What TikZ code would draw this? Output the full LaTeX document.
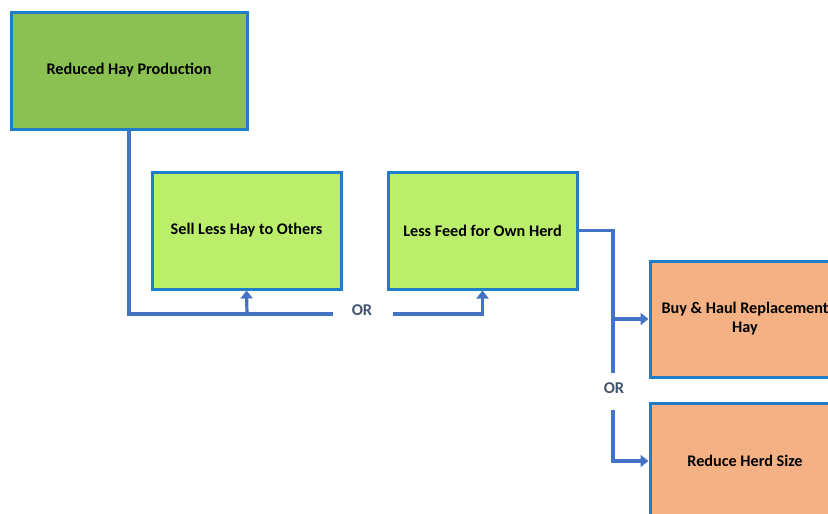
\documentclass[tikz,border=0pt]{standalone}
\usepackage{fontspec}
\setmainfont{Carlito}
\usetikzlibrary{arrows.meta}
\definecolor{boxedge}{RGB}{34,125,201}
\definecolor{linkblue}{RGB}{68,114,196}
\definecolor{darkgreen}{RGB}{139,193,82}
\definecolor{lightgreen}{RGB}{187,238,107}
\definecolor{peach}{RGB}{244,177,131}
\definecolor{orgray}{RGB}{68,84,106}
\tikzset{
  card/.style={draw=boxedge, line width=3pt, minimum height=116pt,
    align=center, font=\fontsize{16.2}{19}\selectfont\bfseries, text=black},
  link/.style={draw=linkblue, line width=3.2pt},
  tip/.style={-{Triangle[width=12pt,length=8pt]}},
  ortext/.style={font=\fontsize{16.5}{19}\selectfont\bfseries, text=orgray}
}
\begin{document}
\begin{tikzpicture}[x=1pt,y=-1pt]
\useasboundingbox (0,0) rectangle (828,514);
\clip (0,0) rectangle (828,514);
% boxes
\node[card, fill=darkgreen, minimum width=236pt, minimum height=117pt] (hay) at (129,70.5) {Reduced Hay Production};
\node[card, fill=lightgreen, minimum width=189pt, minimum height=117pt] (sell) at (246.5,230.5) {Sell Less Hay to Others};
\node[card, fill=lightgreen, minimum width=189pt, minimum height=117pt] (feed) at (482.5,230.5) {Less Feed for Own Herd};
\node[card, fill=peach, minimum width=190pt] (buy) at (745,319) {Buy \& Haul Replacement\\Hay};
\node[card, fill=peach, minimum width=190pt] (herd) at (745,461) {Reduce Herd Size};
% OR labels
\node[ortext] (or1) at (362,310) {OR};
\node[ortext] (or2) at (614,388) {OR};
% helper points
\coordinate (gapL) at (333,314);
\coordinate (gapR) at (393,314);
\coordinate (jSell) at (247,314);
\coordinate (turn) at (613,230.5);
\coordinate (orTop) at (613,373);
\coordinate (orBot) at (613,410);
\coordinate (jBuy) at (613,319);
% connectors
\draw[link] (hay.south) |- (gapL);
\draw[link, tip] (jSell) -- (sell.south);
\draw[link, tip] (gapR) -| (feed.south);
\draw[link] (feed.east) -- (turn) -- (orTop);
\draw[link, tip] (jBuy) -- (buy.west);
\draw[link, tip] (orBot) |- (herd.west);
\end{tikzpicture}
\end{document}
